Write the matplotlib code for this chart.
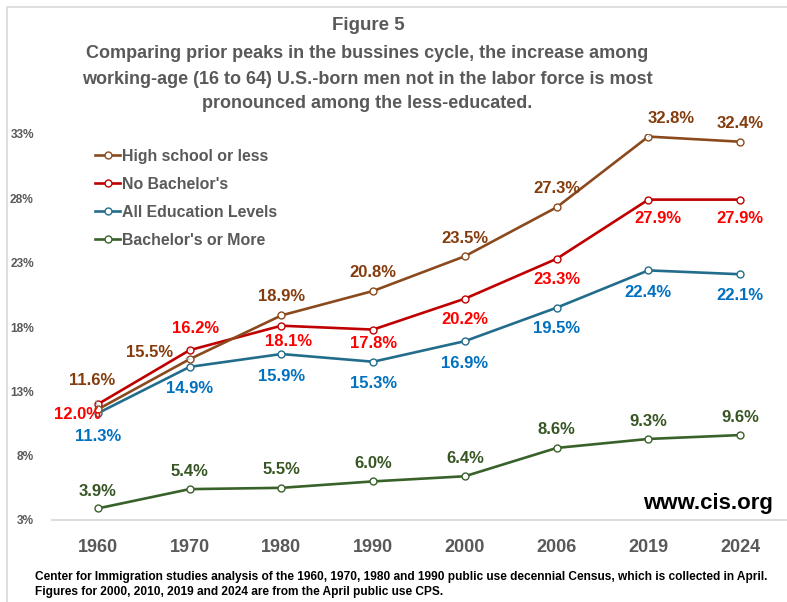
import matplotlib
matplotlib.use("Agg")
import matplotlib.pyplot as plt
from matplotlib.patches import Rectangle

# data
years = ["1960", "1970", "1980", "1990", "2000", "2006", "2019", "2024"]
hs_or_less = [11.6, 15.5, 18.9, 20.8, 23.5, 27.3, 32.8, 32.4]
no_ba = [12.0, 16.2, 18.1, 17.8, 20.2, 23.3, 27.9, 27.9]
all_levels = [11.3, 14.9, 15.9, 15.3, 16.9, 19.5, 22.4, 22.1]
ba_or_more = [3.9, 5.4, 5.5, 6.0, 6.4, 8.6, 9.3, 9.6]
series_names = ["High school or less", "No Bachelor's",
                "All Education Levels", "Bachelor's or More"]
y_ticks = [3, 8, 13, 18, 23, 28, 33]

# label offsets in pixels (dx, dy) for each point
off_hs = [(-6, 29), (-40, 7), (0, 19), (0, 18), (0, 18), (0, 19), (23, 18), (0, 18)]
off_nb = [(-20, -10), (6, 22), (7, -16), (0, -14), (0, -21), (0, -21), (10, -19), (0, -19)]
off_all = [(0, -23), (0, -22), (0, -22), (0, -22), (0, -22), (0, -21), (0, -22), (0, -21)]
off_ba = [(0, 17), (0, 18), (0, 18), (0, 18), (0, 18), (0, 18), (0, 17), (0, 18)]
leaders = {(0, 0), (0, 1), (1, 1), (0, 6)}

plt.rcParams["font.family"] = "Liberation Sans"
plt.rcParams["font.weight"] = "bold"
grey = "#595959"

W, H = 787, 602
fig = plt.figure(figsize=(W / 100, H / 100), dpi=100)
fig.patches.append(Rectangle((7 / W, -0.1), 1.2, 1.1 - 7 / H, transform=fig.transFigure,
                             fill=False, edgecolor="#D9D9D9", lw=1.2))

ax = fig.add_axes([52 / W, 82 / H, 734 / W, 386 / H])
x = list(range(len(years)))

line_cols = ["#8B4A1E", "#C00000", "#236D8C", "#38622A"]
text_cols = ["#843C0C", "#FF0000", "#0070C0", "#375623"]
all_series = [hs_or_less, no_ba, all_levels, ba_or_more]
all_offs = [off_hs, off_nb, off_all, off_ba]

for si, (vals, lc, tc, offs, nm) in enumerate(zip(all_series, line_cols, text_cols,
                                                   all_offs, series_names)):
    ax.plot(x, vals, color=lc, lw=1.9, marker="o", markersize=5,
            markerfacecolor="white", markeredgecolor=lc, markeredgewidth=1,
            label=nm, zorder=3 + (3 - si) * 0.1)
    for i, v in enumerate(vals):
        dx, dy = offs[i]
        ap = None
        if (si, i) in leaders:
            ap = dict(arrowstyle="-", color="#A6A6A6", lw=0.6, shrinkA=7, shrinkB=3)
        ax.annotate(f"{v:.1f}%", (i, v), xytext=(dx, dy), textcoords="offset pixels",
                    ha="center", va="center", fontsize=12, color=tc,
                    arrowprops=ap, zorder=5)

ax.set_xlim(-0.5, len(years) - 0.5)
ax.set_ylim(3, 33)
ax.set_xticks(x)
ax.set_xticklabels(years, color=grey, fontsize=13)
ax.set_yticks(y_ticks)
ax.set_yticklabels([f"{t}%" for t in y_ticks], color=grey, fontsize=8.6)
ax.tick_params(axis="x", length=0, pad=14)
ax.tick_params(axis="y", length=0, pad=13)
for s in ["top", "right", "left"]:
    ax.spines[s].set_visible(False)
ax.spines["bottom"].set_color("#D9D9D9")
ax.spines["bottom"].set_linewidth(1.3)
ax.patch.set_alpha(0)

leg = ax.legend(loc="upper left", bbox_to_anchor=(95 / W, 1 - 149 / H),
                bbox_transform=fig.transFigure, frameon=False, borderpad=0,
                borderaxespad=0, handlelength=1.6, handletextpad=0.12,
                labelspacing=0.82, prop={"size": 11.4, "weight": "bold"})
for t in leg.get_texts():
    t.set_color(grey)

fig.text(368 / W, 1 - 25 / H, "Figure 5", ha="center", va="center",
         color=grey, fontsize=13.5)
subtitle = ["Comparing prior peaks in the bussines cycle, the increase among",
            "working-age (16 to 64) U.S.-born men not in the labor force is most",
            "pronounced among the less-educated."]
for k, line in enumerate(subtitle):
    fig.text(367 / W, 1 - (54 + 25 * k) / H, line, ha="center", va="center",
             color=grey, fontsize=13)

fig.text(773 / W, 1 - 503 / H, "www.cis.org", ha="right", va="center", fontsize=16,
         color="black")

fig.text(35 / W, 1 - 577 / H,
         "Center for Immigration studies analysis of the 1960, 1970, 1980 and 1990 public use "
         "decennial Census, which is collected in April.",
         ha="left", va="center", color="black", fontsize=8.6)
fig.text(35 / W, 1 - 592 / H,
         "Figures for 2000, 2010, 2019 and 2024 are from the April public use CPS.",
         ha="left", va="center", color="black", fontsize=8.6)

fig.savefig("out.png", dpi=100)
